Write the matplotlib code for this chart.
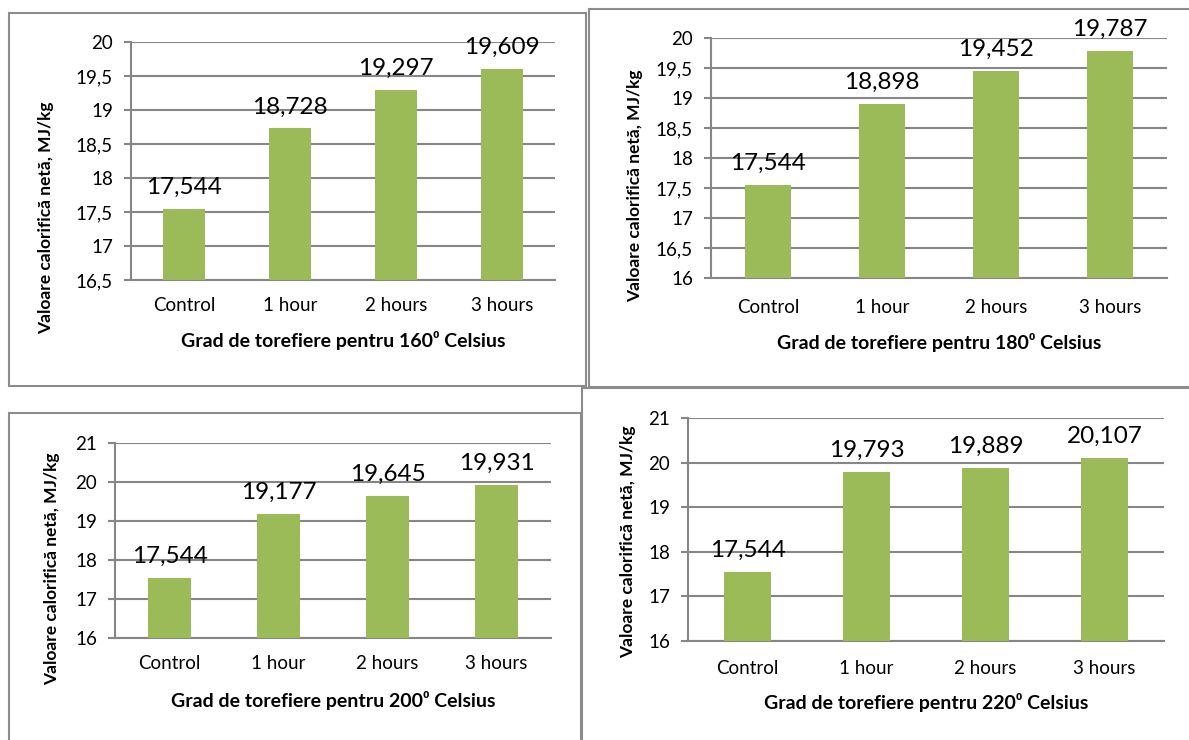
import matplotlib.pyplot as plt
from matplotlib.patches import Rectangle
from matplotlib.ticker import FuncFormatter, MultipleLocator

plt.rcParams['font.family'] = ['Lato', 'DejaVu Sans']

categories = ['Control', '1 hour', '2 hours', '3 hours']
temperatures = [160, 180, 200, 220]
values_160 = [17.544, 18.728, 19.297, 19.609]
values_180 = [17.544, 18.898, 19.452, 19.787]
values_200 = [17.544, 19.177, 19.645, 19.931]
values_220 = [17.544, 19.793, 19.889, 20.107]
series = [values_160, values_180, values_200, values_220]
y_limits = [(16.5, 20), (16, 20), (16, 21), (16, 21)]
y_steps = [0.5, 0.5, 1, 1]

W, H = 1189, 740
GREEN = '#9bbb59'
GREY = '#868686'

# pixel layout of each chart: frame box, plot area (left, right, top, bottom),
# y title centre, x title centre height, category label centre height
layout = [
    dict(frame=(9, 13, 586, 386), area=(131, 555, 42, 280), ylab=(46, 218), xlab_y=340, tick_y=307),
    dict(frame=(589, 9, 1200, 387), area=(711, 1167, 38, 278), ylab=(635, 186), xlab_y=343, tick_y=309),
    dict(frame=(9, 413, 581, 750), area=(115, 551, 443, 638), ylab=(52, 569), xlab_y=700, tick_y=665),
    dict(frame=(582, 388, 1200, 750), area=(688, 1164, 418, 641), ylab=(628, 542), xlab_y=703, tick_y=670),
]


def comma(v, fmt='{:g}'):
    return fmt.format(v).replace('.', ',')


fig = plt.figure(figsize=(W / 100, H / 100), dpi=100)

for temp, vals, (lo, hi), step, lay in zip(temperatures, series, y_limits, y_steps, layout):
    fx0, fy0, fx1, fy1 = lay['frame']
    fig.add_artist(Rectangle((fx0 / W, 1 - fy1 / H), (fx1 - fx0) / W, (fy1 - fy0) / H,
                             transform=fig.transFigure, fill=False, ec='#8c8c8c', lw=1.5))

    x0, x1, top, bot = lay['area']
    ax = fig.add_axes([x0 / W, 1 - bot / H, (x1 - x0) / W, (bot - top) / H])
    pos = range(len(categories))
    ax.bar(pos, vals, width=0.4, color=GREEN, zorder=3)
    for i, v in zip(pos, vals):
        ax.annotate(comma(v, '{:.3f}'), (i, v), xytext=(0, 8), textcoords='offset points',
                    ha='center', va='bottom', fontsize=17.5, zorder=4)

    ax.set_xlim(-0.5, len(categories) - 0.5)
    ax.set_ylim(lo, hi)
    ax.yaxis.set_major_locator(MultipleLocator(step))
    ax.yaxis.set_major_formatter(FuncFormatter(lambda v, p: comma(round(v, 2))))
    ax.set_xticks(list(pos))
    ax.set_xticklabels(categories)

    ax.set_axisbelow(True)
    ax.yaxis.grid(True, color=GREY, lw=1.5)
    for side in ('top', 'right'):
        ax.spines[side].set_visible(False)
    for side in ('left', 'bottom'):
        ax.spines[side].set_color(GREY)
        ax.spines[side].set_linewidth(1.5)
    ax.tick_params(axis='y', length=5, width=1.5, color=GREY, pad=8, labelsize=13.5)
    ax.tick_params(axis='x', length=0, pad=(lay['tick_y'] - bot - 10) * 0.72, labelsize=13.5)

    ax.set_xlabel(f'Grad de torefiere pentru {temp}\u2070 Celsius', fontsize=14, fontweight='bold')
    ax.set_ylabel('Valoare calorifică netă, MJ/kg', fontsize=12.5, fontweight='bold')
    ax.xaxis.set_label_coords(0.5, (bot - lay['xlab_y']) / (bot - top))
    yx, yy = lay['ylab']
    ax.yaxis.set_label_coords((yx - x0) / (x1 - x0), (bot - yy) / (bot - top))
    ax.xaxis.label.set_va('center')
    ax.yaxis.label.set_va('center')

fig.savefig('out.png', dpi=100, facecolor='white')
